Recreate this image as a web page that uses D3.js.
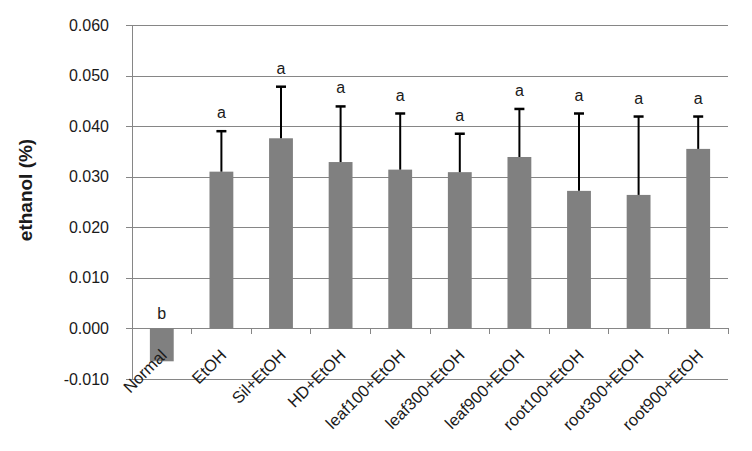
<!DOCTYPE html>
<html>
<head>
<meta charset="utf-8">
<script src="https://cdn.jsdelivr.net/npm/d3@7"></script>
<style>
  html, body { margin: 0; padding: 0; background: #fff; }
  svg { display: block; }
  text { font-family: "Liberation Sans", Arial, sans-serif; }
</style>
</head>
<body>
<svg id="chart" width="752" height="451"></svg>
<script>
// ---- data ----
const categories = ["Normal", "EtOH", "Sil+EtOH", "HD+EtOH", "leaf100+EtOH", "leaf300+EtOH",
                    "leaf900+EtOH", "root100+EtOH", "root300+EtOH", "root900+EtOH"];
const means  = [-0.0065, 0.0310, 0.0376, 0.0329, 0.0314, 0.0309, 0.0339, 0.0272, 0.0264, 0.0355];
const errors = [null, 0.0080, 0.0102, 0.0110, 0.0111, 0.0076, 0.0095, 0.0153, 0.0155, 0.0064];
const letters = ["b", "a", "a", "a", "a", "a", "a", "a", "a", "a"];
const yTicks = [-0.010, 0.000, 0.010, 0.020, 0.030, 0.040, 0.050, 0.060];
const yTitle = "ethanol (%)";

// ---- layout ----
const plotLeft = 132, plotRight = 728, plotTop = 25, plotBottom = 379;
const svg = d3.select("#chart");

const x = d3.scaleBand().domain(categories).range([plotLeft, plotRight]).paddingInner(0.6).paddingOuter(0.3);
const y = d3.scaleLinear().domain([-0.01, 0.06]).range([plotBottom, plotTop]);
const fmt3 = d3.format(".3f");
const fmt = d => fmt3(d).replace("\u2212", "-");

// gridlines
svg.append("g").selectAll("line").data(yTicks).join("line")
  .attr("x1", plotLeft).attr("x2", plotRight)
  .attr("y1", d => Math.round(y(d)) + 0.5).attr("y2", d => Math.round(y(d)) + 0.5)
  .attr("stroke", "#868686").attr("stroke-width", 1);

// y axis
const yAxis = d3.axisLeft(y).tickValues(yTicks).tickFormat(fmt).tickSize(6).tickPadding(17);
const gy = svg.append("g").attr("transform", `translate(${plotLeft},0)`).call(yAxis);
gy.select(".domain").attr("stroke", "#868686").attr("shape-rendering", "crispEdges");
gy.selectAll(".tick line").attr("stroke", "#868686").attr("shape-rendering", "crispEdges");
gy.selectAll(".tick text").attr("font-size", 16).attr("fill", "#1a1a1a")
  .attr("font-family", "'Liberation Sans', Arial, sans-serif");

// category ticks on the zero line
const step = x.step();
const boundaries = d3.range(categories.length + 1).map(i => plotLeft + i * step);
svg.append("g").selectAll("line").data(boundaries).join("line")
  .attr("x1", d => d).attr("x2", d => d)
  .attr("y1", y(0)).attr("y2", y(0) + 6)
  .attr("stroke", "#868686").attr("shape-rendering", "crispEdges");

// bars
svg.append("g").selectAll("rect").data(categories).join("rect")
  .attr("x", d => x(d))
  .attr("width", x.bandwidth())
  .attr("y", (d, i) => y(Math.max(0, means[i])))
  .attr("height", (d, i) => Math.abs(y(means[i]) - y(0)))
  .attr("fill", "#808080");

// error bars
const eb = svg.append("g");
categories.forEach((c, i) => {
  if (errors[i] == null) return;
  const cx = x(c) + x.bandwidth() / 2;
  eb.append("line").attr("x1", cx).attr("x2", cx)
    .attr("y1", y(means[i])).attr("y2", y(means[i] + errors[i]))
    .attr("stroke", "#000").attr("stroke-width", 2);
  eb.append("line").attr("x1", cx - 5).attr("x2", cx + 5)
    .attr("y1", y(means[i] + errors[i])).attr("y2", y(means[i] + errors[i]))
    .attr("stroke", "#000").attr("stroke-width", 2.5);
});

// significance letters
svg.append("g").selectAll("text").data(categories).join("text")
  .attr("x", d => x(d) + x.bandwidth() / 2)
  .attr("y", (d, i) => means[i] < 0 ? y(0) - 9 : y(means[i] + errors[i]) - 13)
  .attr("text-anchor", "middle")
  .attr("font-size", 16).attr("fill", "#1a1a1a")
  .text((d, i) => letters[i]);

// category labels (rotated)
svg.append("g").selectAll("text").data(categories).join("text")
  .attr("transform", d => `translate(${x(d) + x.bandwidth() / 2 + 6},${y(0) + 28}) rotate(-45)`)
  .attr("text-anchor", "end")
  .attr("font-size", 16.5).attr("fill", "#1a1a1a")
  .text(d => d);

// y title
svg.append("text")
  .attr("transform", "translate(32,190) rotate(-90)")
  .attr("text-anchor", "middle")
  .attr("font-size", 19).attr("font-weight", "bold").attr("fill", "#1a1a1a")
  .text(yTitle);
</script>
</body>
</html>
